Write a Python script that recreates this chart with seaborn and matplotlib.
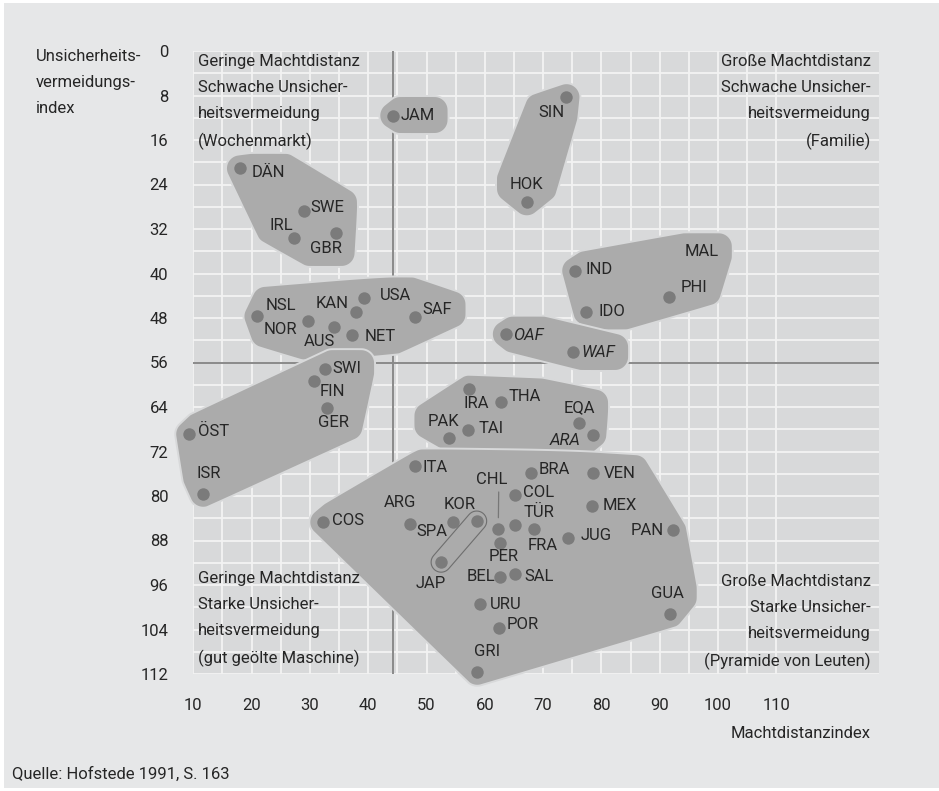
import numpy as np
import pandas as pd
import matplotlib
matplotlib.use("Agg")
import matplotlib.pyplot as plt
import seaborn as sns
from matplotlib.patches import Polygon, Rectangle

# Machtdistanzindex (x) und Unsicherheitsvermeidungsindex (y)
codes = ["JAM", "DÄN", "SWE", "IRL", "GBR", "NSL", "NOR", "AUS", "KAN", "USA", "NET", "SAF",
         "SWI", "FIN", "GER", "ÖST", "ISR", "SIN", "HOK", "IND", "IDO", "PHI", "MAL", "OAF", "WAF",
         "IRA", "THA", "PAK", "TAI", "EQA", "ARA", "ITA", "BRA", "VEN", "COL", "MEX", "PAN",
         "COS", "ARG", "SPA", "KOR", "JAP", "CHL", "TÜR", "FRA", "JUG", "PER", "BEL", "SAL",
         "URU", "POR", "GRI", "GUA"]
pdi = [44.3, 18.0, 29.0, 27.3, 34.4, 21.0, 29.6, 34.1, 37.9, 39.3, 37.3, 48.0,
       32.6, 30.7, 33.0, 9.3, 11.7, 74.0, 67.2, 75.5, 77.4, 91.6, 97.2, 63.6, 75.2,
       57.3, 62.7, 53.9, 57.1, 76.2, 78.6, 48.1, 68.0, 78.6, 65.1, 78.3, 92.3,
       32.3, 47.2, 54.6, 58.6, 52.5, 62.3, 65.2, 68.5, 74.3, 62.6, 62.6, 65.1,
       59.2, 62.4, 58.7, 91.8]
uai = [11.6, 21.1, 28.7, 33.6, 32.8, 47.7, 48.5, 49.6, 46.9, 44.4, 51.1, 47.8,
       57.1, 59.3, 64.1, 68.9, 79.6, 8.3, 27.2, 39.5, 46.9, 44.2, 36.1, 50.9, 54.2,
       60.7, 63.1, 69.6, 68.2, 66.9, 69.0, 74.6, 75.8, 75.8, 79.9, 81.8, 86.2,
       84.7, 85.0, 84.7, 84.5, 91.9, 85.9, 85.3, 86.0, 87.5, 88.4, 94.5, 94.1,
       99.5, 103.7, 111.6, 101.3]
label_only = ["MAL"]
italic = ["OAF", "WAF", "ARA"]

clusters = [
    ["JAM"],
    ["SIN", "HOK"],
    ["DÄN", "SWE", "IRL", "GBR"],
    ["NSL", "NOR", "AUS", "KAN", "USA", "NET", "SAF"],
    ["SWI", "FIN", "GER", "ÖST", "ISR"],
    ["IND", "IDO", "PHI", "MAL"],
    ["OAF", "WAF"],
    ["IRA", "THA", "PAK", "TAI", "EQA", "ARA"],
    ["ITA", "BRA", "VEN", "COL", "MEX", "PAN", "COS", "ARG", "SPA", "KOR", "JAP", "CHL",
     "TÜR", "FRA", "JUG", "PER", "BEL", "SAL", "URU", "POR", "GRI", "GUA"],
]
ring = ["JAP", "KOR"]

x_ticks = list(range(10, 111, 10))
y_ticks = list(range(0, 113, 8))

quadrants = [
    ("Geringe Machtdistanz\nSchwache Unsicher-\nheitsvermeidung\n(Wochenmarkt)", "tl"),
    ("Große Machtdistanz\nSchwache Unsicher-\nheitsvermeidung\n(Familie)", "tr"),
    ("Geringe Machtdistanz\nStarke Unsicher-\nheitsvermeidung\n(gut geölte Maschine)", "bl"),
    ("Große Machtdistanz\nStarke Unsicher-\nheitsvermeidung\n(Pyramide von Leuten)", "br"),
]

# label offsets from the dot in pixels (right, down) and alignment
label_pos = {
    "JAM": (7, 0, "left"), "DÄN": (12, 4, "left"), "SWE": (6, -3, "left"),
    "IRL": (-1, -12, "right"), "GBR": (-10, 15, "center"), "NSL": (8, -11, "left"),
    "NOR": (-10, 9, "right"), "KAN": (-7, -8, "right"), "USA": (16, -2, "left"),
    "AUS": (-14, 15, "center"), "NET": (12, 1, "left"), "SAF": (8, -7, "left"),
    "SWI": (7, 0, "left"), "FIN": (6, 11, "left"), "GER": (-9, 15, "left"),
    "ÖST": (9, -3, "left"), "ISR": (-7, -20, "left"), "SIN": (-2, 15, "right"),
    "HOK": (0, -18, "center"), "MAL": (0, 0, "center"), "IND": (10, -1, "left"),
    "PHI": (12, -9, "left"), "IDO": (12, 0, "left"), "OAF": (7, 1, "left"),
    "WAF": (8, 0, "left"), "IRA": (-6, 15, "left"), "THA": (8, -5, "left"),
    "PAK": (-6, -17, "center"), "TAI": (11, -2, "left"), "EQA": (0, -15, "center"),
    "ARA": (-13, 6, "right"), "ITA": (7, 2, "left"), "BRA": (7, -3, "left"),
    "VEN": (10, 1, "left"), "COL": (8, -3, "left"), "MEX": (11, -1, "left"),
    "CHL": (-7, -49, "center"), "TÜR": (8, -13, "left"), "PAN": (-9, 0, "right"),
    "COS": (9, -2, "left"), "ARG": (-10, -21, "center"), "SPA": (-21, 9, "center"),
    "KOR": (-17, -17, "center"), "JAP": (-10, 21, "center"), "PER": (4, 14, "center"),
    "FRA": (8, 16, "center"), "JUG": (12, -2, "left"), "BEL": (-5, 0, "right"),
    "SAL": (10, 2, "left"), "URU": (10, 0, "left"), "POR": (8, -3, "left"),
    "GRI": (10, -20, "center"), "GUA": (-3, -21, "center"),
}

df = pd.DataFrame({"code": codes, "pdi": pdi, "uai": uai})
dots = df[~df["code"].isin(label_only)]

BG = "#e6e7e8"
PANEL = "#d8d9da"
BLOB = "#ababab"
DOT = "#7b7b7b"
TXT = "#262626"

sns.set_style("whitegrid", {"axes.facecolor": PANEL, "grid.color": "#f3f3f3"})
plt.rcParams["font.family"] = ["Roboto", "DejaVu Sans"]
FS = 12
LS = 1.9

fig = plt.figure(figsize=(9.39, 7.91), dpi=100)
fig.patch.set_facecolor("white")
fig.patches.append(Rectangle((4 / 939, 3 / 791), 935 / 939, 785 / 791, transform=fig.transFigure,
                             facecolor=BG, edgecolor="none", zorder=-10))
ax = fig.add_axes([193.3 / 939, 117 / 791, 685.7 / 939, 623 / 791])
ax.set_xlim(10, 127.6)
ax.set_ylim(112, 0)

ax.set_xticks(x_ticks)
ax.set_xticks(list(range(15, 106, 10)), minor=True)
ax.set_yticks(y_ticks)
ax.set_yticks(list(range(4, 109, 8)), minor=True)
ax.grid(which="both", color="#f3f3f3", linewidth=1.3, zorder=0)
ax.set_axisbelow(True)
ax.tick_params(which="both", length=0, labelsize=FS, labelcolor=TXT)
ax.tick_params(axis="x", pad=17)
ax.tick_params(axis="y", pad=18)
for s in ax.spines.values():
    s.set_visible(False)

ax.axvline(44.3, color="#8a8a8a", lw=1.4, zorder=1)
ax.axhline(56, color="#8a8a8a", lw=1.4, zorder=1)

sns.scatterplot(data=dots, x="pdi", y="uai", s=80, color=DOT, linewidth=0, ax=ax,
                zorder=5, clip_on=False, legend=False)
ax.set_xlabel("")
ax.set_ylabel("")

texts = {}
for c, x, y in zip(codes, pdi, uai):
    dx, dy, ha = label_pos[c]
    kw = {}
    if c == "CHL":
        kw["arrowprops"] = dict(arrowstyle="-", color="#777777", lw=0.9, shrinkA=1, shrinkB=8,
                                relpos=(0.74, 0.15))
    texts[c] = ax.annotate(c, (x, y), xytext=(dx, -dy), textcoords="offset pixels",
                           ha=ha, va="center", fontsize=FS, color=TXT, annotation_clip=False,
                           style="italic" if c in italic else "normal", zorder=6, **kw)


def hull(pts):
    pts = sorted(set(map(tuple, np.round(np.asarray(pts), 3))))
    if len(pts) < 3:
        return np.array(pts)

    def cross(o, a, b):
        return (a[0] - o[0]) * (b[1] - o[1]) - (a[1] - o[1]) * (b[0] - o[0])
    lower, upper = [], []
    for p in pts:
        while len(lower) >= 2 and cross(lower[-2], lower[-1], p) <= 0:
            lower.pop()
        lower.append(p)
    for p in reversed(pts):
        while len(upper) >= 2 and cross(upper[-2], upper[-1], p) <= 0:
            upper.pop()
        upper.append(p)
    return np.array(lower[:-1] + upper[:-1])


def rounded(pts, r, n=36):
    ang = np.linspace(0, 2 * np.pi, n, endpoint=False)
    disc = np.c_[np.cos(ang), np.sin(ang)] * r
    pts = np.asarray(pts)
    return hull((pts[:, None, :] + disc[None, :, :]).reshape(-1, 2))


def chaikin(p, it=4):
    for _ in range(it):
        q = np.roll(p, -1, axis=0)
        out = np.empty((2 * len(p), 2))
        out[0::2] = 0.75 * p + 0.25 * q
        out[1::2] = 0.25 * p + 0.75 * q
        p = out
    return p


fig.canvas.draw()
rend = fig.canvas.get_renderer()
inv = ax.transData.inverted()
pos = {c: (x, y) for c, x, y in zip(codes, pdi, uai)}

for group in clusters:
    pts = []
    for c in group:
        if c not in label_only:
            pts.append(ax.transData.transform(pos[c]))
        bb = texts[c].get_window_extent(rend)
        pts += [(bb.x0, bb.y0 + 3), (bb.x1, bb.y0 + 3), (bb.x0, bb.y1 - 2), (bb.x1, bb.y1 - 2)]
    poly = chaikin(rounded(pts, 14))
    ax.add_patch(Polygon(inv.transform(poly), closed=True, facecolor=BLOB, edgecolor=PANEL,
                         lw=1.4, zorder=2, clip_on=False))

ring_pts = [ax.transData.transform(pos[c]) for c in ring]
ax.add_patch(Polygon(inv.transform(rounded(ring_pts, 10)), closed=True, facecolor="none",
                     edgecolor="#6e6e6e", lw=0.8, zorder=4, clip_on=False))

for txt, where in quadrants:
    left = where[1] == "l"
    top = where[0] == "t"
    ax.annotate(txt, (0 if left else 1, 1 if top else 0), xycoords="axes fraction",
                xytext=(5 if left else -8, -3 if top else (7 if left else 4)),
                textcoords="offset pixels", ha="left" if left else "right",
                va="top" if top else "bottom", multialignment="left" if left else "right",
                fontsize=FS, color=TXT, linespacing=LS, zorder=7)

fig.text(36 / 939, 1 - 49 / 791, "Unsicherheits-\nvermeidungs-\nindex", ha="left", va="top",
         fontsize=FS, color=TXT, linespacing=LS)
fig.text(871 / 939, 1 - 733 / 791, "Machtdistanzindex", ha="right", va="center",
         fontsize=FS, color=TXT)
fig.text(12 / 939, 1 - 774 / 791, "Quelle: Hofstede 1991, S. 163", ha="left", va="center",
         fontsize=FS, color=TXT)

fig.savefig("out.png", dpi=100)
